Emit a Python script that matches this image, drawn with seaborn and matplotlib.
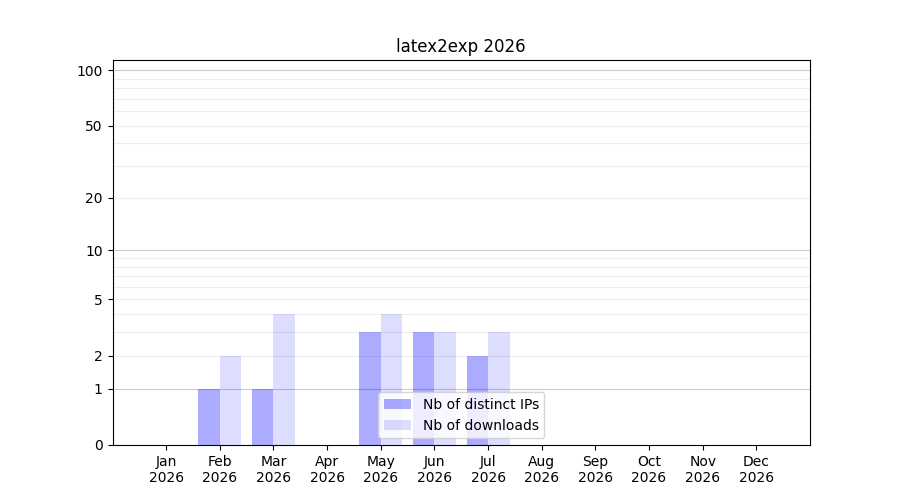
import numpy as np
import pandas as pd
import matplotlib
matplotlib.use("Agg")
import matplotlib.pyplot as plt
import seaborn as sns

# monthly stats for latex2exp, 2026
months = ["Jan", "Feb", "Mar", "Apr", "May", "Jun",
          "Jul", "Aug", "Sep", "Oct", "Nov", "Dec"]
year = 2026
distinct_ips = [0, 1, 1, 0, 3, 3, 2, 0, 0, 0, 0, 0]
downloads = [0, 2, 4, 0, 4, 3, 3, 0, 0, 0, 0, 0]
series_names = ["Nb of distinct IPs", "Nb of downloads"]
y_ticks = [0, 1, 2, 5, 10, 20, 50, 100]


def fwd(x):
    return np.log10(1 + np.clip(x, 0, None))


def inv(y):
    return 10 ** y - 1


df = pd.DataFrame({
    "month": months * 2,
    "value": distinct_ips + downloads,
    "series": [series_names[0]] * 12 + [series_names[1]] * 12,
})

fig, ax = plt.subplots(figsize=(9, 5), dpi=100)

sns.barplot(data=df, x="month", y="value", hue="series", order=months,
            hue_order=series_names, palette=["#0000ff", "#0000ff"],
            saturation=1, width=0.8, legend=False, ax=ax)

alphas = [0.33, 0.135]
for cont, a in zip(ax.containers, alphas):
    for p in cont:
        p.set_alpha(a)
        p.set_edgecolor("none")

ax.set_yscale("function", functions=(fwd, inv))
ax.set_ylim(0, 113.5)
ax.set_xlim(-1, 12)

# grid: darker at decades, lighter in between
for v in [1, 10, 100]:
    ax.axhline(v, color="#cccccc", linewidth=0.8, zorder=0)
for v in list(range(2, 10)) + list(range(20, 100, 10)):
    ax.axhline(v, color="#eeeeee", linewidth=0.8, zorder=0)

ax.set_yticks(y_ticks)
ax.set_yticklabels([str(t) for t in y_ticks])
ax.yaxis.set_minor_locator(matplotlib.ticker.NullLocator())
ax.set_xticks(range(12))
ax.set_xticklabels([f"{m}\n{year}" for m in months])
ax.set_xlabel("")
ax.set_ylabel("")
ax.set_title(f"latex2exp {year}")

ax.legend(handles=ax.containers, labels=series_names, loc="lower center")

fig.savefig("out.png", dpi=100)
